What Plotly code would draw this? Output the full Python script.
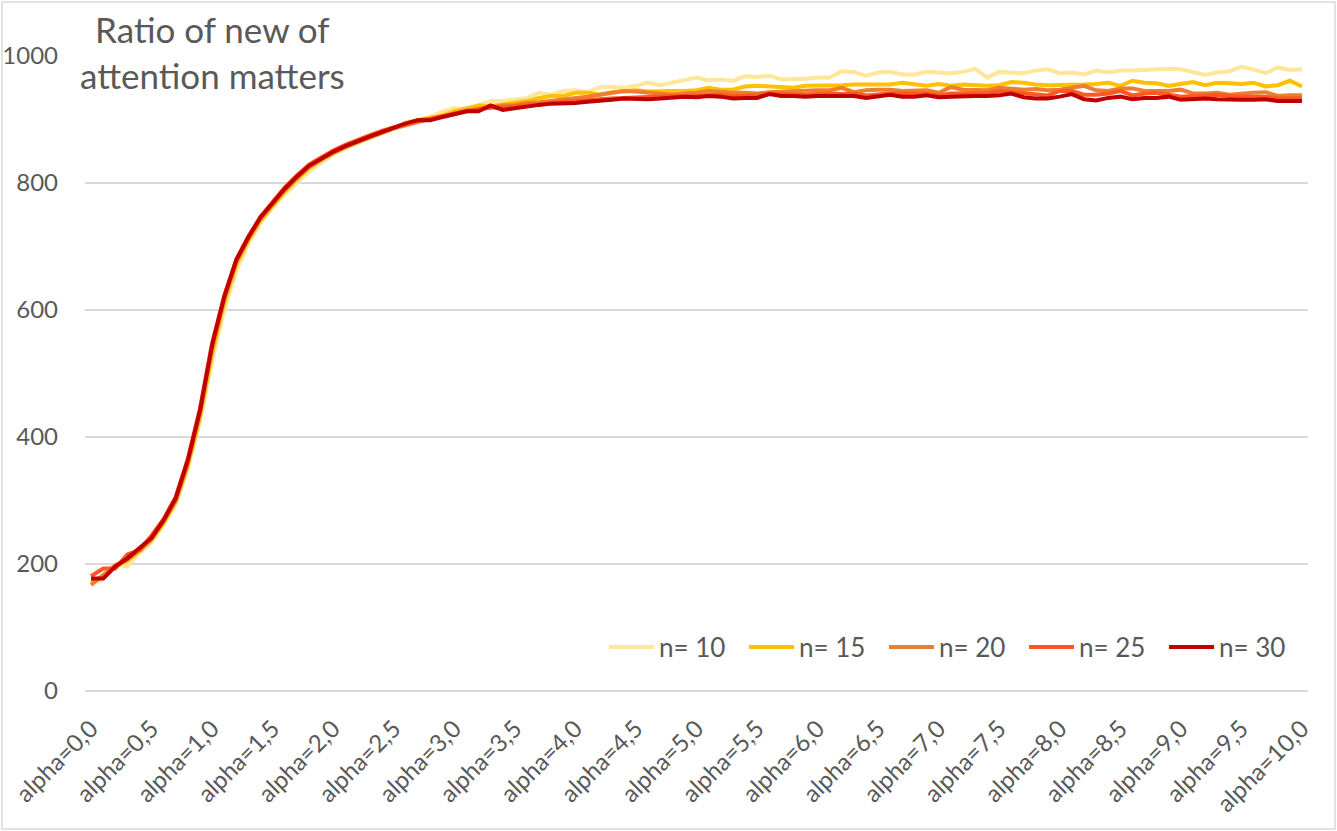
import plotly.graph_objects as go

# categories alpha=0,0 ... alpha=10,0 in steps of 0,1
alphas = ["alpha=%d,%d" % (k // 10, k % 10) for k in range(101)]
tick_labels = alphas[::5]

n10 = [170, 176, 199, 196, 218, 235, 262, 295, 350, 425,
       520, 600, 662, 705, 738, 762, 782, 800, 818, 832,
       845, 855, 863, 871, 878, 885, 896, 899, 904, 912,
       918, 916, 922, 929, 929, 931, 934, 942, 939, 945,
       946, 943, 951, 951, 950, 953, 958, 954, 958, 961,
       966, 962, 963, 961, 968, 967, 969, 963, 963, 964,
       966, 966, 976, 975, 969, 974, 975, 971, 971, 975,
       974, 973, 975, 980, 966, 975, 974, 973, 977, 979,
       973, 974, 971, 977, 974, 977, 977, 978, 978, 980,
       979, 974, 970, 974, 976, 983, 979, 973, 982, 978,
       979]

n15 = [172, 180, 197, 205, 220, 238, 265, 298, 356, 432,
       532, 612, 672, 710, 741, 765, 787, 806, 824, 836,
       847, 856, 865, 872, 879, 886, 894, 899, 902, 906,
       913, 918, 922, 921, 924, 926, 929, 934, 937, 937,
       942, 942, 939, 943, 945, 946, 944, 945, 945, 945,
       946, 950, 947, 947, 952, 953, 952, 950, 950, 953,
       953, 954, 954, 955, 955, 954, 955, 958, 955, 953,
       956, 953, 955, 954, 953, 954, 959, 958, 955, 954,
       954, 955, 955, 956, 958, 953, 961, 958, 957, 953,
       956, 959, 954, 958, 957, 956, 958, 952, 954, 961,
       952]

n20 = [167, 182, 198, 207, 222, 240, 268, 300, 360, 438,
       540, 617, 676, 713, 744, 767, 789, 808, 825, 837,
       848, 857, 865, 872, 879, 886, 891, 896, 901, 904,
       908, 912, 917, 919, 922, 923, 926, 927, 929, 931,
       933, 936, 939, 942, 945, 944, 942, 941, 939, 941,
       942, 945, 943, 942, 942, 941, 943, 944, 945, 945,
       946, 946, 950, 943, 946, 947, 947, 945, 945, 946,
       942, 951, 947, 947, 946, 950, 948, 947, 948, 946,
       947, 950, 953, 946, 945, 949, 949, 945, 945, 945,
       947, 941, 941, 942, 939, 941, 942, 943, 937, 938,
       938]

n25 = [181, 193, 193, 215, 222, 245, 271, 306, 366, 445,
       548, 622, 680, 716, 747, 771, 793, 812, 829, 840,
       851, 860, 868, 875, 882, 888, 893, 899, 901, 905,
       910, 914, 916, 919, 919, 921, 923, 925, 927, 928,
       929, 931, 932, 933, 934, 934, 935, 936, 937, 937,
       938, 938, 939, 937, 938, 938, 941, 940, 940, 939,
       940, 941, 940, 941, 938, 940, 941, 941, 941, 941,
       938, 941, 941, 941, 941, 945, 943, 942, 939, 938,
       945, 945, 939, 939, 941, 945, 938, 941, 942, 939,
       936, 937, 938, 939, 937, 936, 936, 936, 933, 933,
       933]

n30 = [177, 177, 196, 209, 225, 241, 269, 304, 364, 442,
       545, 621, 679, 715, 746, 769, 791, 810, 827, 838,
       849, 858, 866, 873, 880, 887, 894, 899, 899, 904,
       909, 913, 913, 922, 915, 918, 921, 923, 925, 925,
       926, 928, 929, 931, 933, 932, 932, 933, 934, 936,
       935, 937, 936, 933, 934, 934, 940, 937, 937, 936,
       937, 937, 937, 937, 934, 937, 939, 936, 936, 938,
       935, 936, 937, 937, 937, 938, 941, 935, 933, 933,
       936, 940, 932, 930, 934, 936, 932, 934, 934, 936,
       931, 932, 933, 932, 931, 931, 931, 932, 929, 929,
       929]

series = [("n= 10", n10, "#FFE699"),
          ("n= 15", n15, "#FFC000"),
          ("n= 20", n20, "#ED7D31"),
          ("n= 25", n25, "#FF5722"),
          ("n= 30", n30, "#C00000")]

fig = go.Figure()
for name, vals, col in series:
    fig.add_trace(go.Scatter(x=alphas, y=vals, mode="lines", name=name,
                             line=dict(color=col, width=4)))

txt = "#595959"
W, H = 1337, 831
ml, mr, mt, mb = 85, 29, 56, 140
pw, ph = W - ml - mr, H - mt - mb

fig.update_layout(
    width=W, height=H,
    margin=dict(l=ml, r=mr, t=mt, b=mb),
    paper_bgcolor="white", plot_bgcolor="white",
    font=dict(family="Lato", color=txt, size=23),
    showlegend=True,
    legend=dict(orientation="h", x=(604 - ml) / pw, xanchor="left",
                y=0.069, yanchor="middle",
                font=dict(size=26, color=txt),
                bgcolor="rgba(0,0,0,0)", itemwidth=45,
                entrywidth=80, entrywidthmode="pixels"),
)
fig.update_xaxes(type="category", range=[-0.5, 100.5],
                 tickmode="array", tickvals=tick_labels, ticktext=tick_labels,
                 tickangle=-45, showgrid=False, zeroline=False,
                 showline=False, ticks="", ticklabelstandoff=18,
                 automargin=False, tickfont=dict(size=24, color=txt))
fig.update_yaxes(range=[0, 1000], dtick=200, showgrid=True,
                 gridcolor="#D9D9D9", gridwidth=1.5,
                 zeroline=True, zerolinecolor="#D9D9D9", zerolinewidth=1.5,
                 showline=False, ticks="", ticklabelstandoff=26,
                 automargin=False, tickfont=dict(size=24, color=txt))

fig.add_annotation(text="Ratio of new of<br>attention matters",
                   xref="paper", yref="paper",
                   x=(212 - ml) / pw, y=1 + (mt - 6) / ph,
                   xanchor="center", yanchor="top", showarrow=False,
                   align="center", font=dict(size=35, color=txt))

# light chart border
fig.add_shape(type="rect", xref="paper", yref="paper",
              x0=(2 - ml) / pw, x1=(W - 2 - ml) / pw,
              y0=-(mb - 2) / ph, y1=1 + (mt - 2) / ph,
              line=dict(color="#D9D9D9", width=1.5))

# drop the browser's default page margin so the figure sits at 0,0
fig.write_html("out.html", config={"displayModeBar": False},
               post_script="document.body.style.margin='0';")
